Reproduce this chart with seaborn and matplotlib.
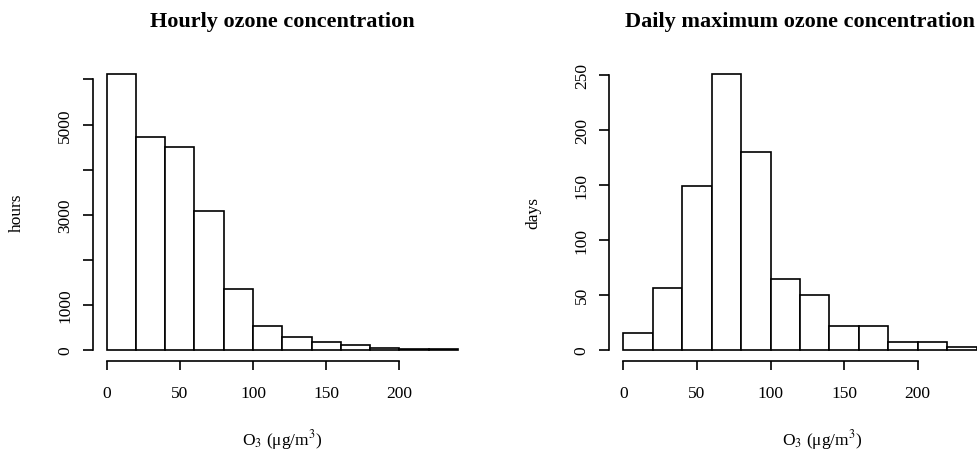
import numpy as np
import seaborn as sns
import matplotlib.pyplot as plt

# histogram bins (ug/m3) and counts
bin_edges = [0, 20, 40, 60, 80, 100, 120, 140, 160, 180, 200, 220, 240]
hourly_counts = [6130, 4730, 4500, 3080, 1350, 520, 270, 160, 110, 45, 12, 5]
daily_counts = [15, 56, 149, 251, 180, 64, 50, 21, 21, 7, 7, 2]

x_ticks = [0, 50, 100, 150, 200]
hourly_ticks = [0, 1000, 2000, 3000, 4000, 5000, 6000]
hourly_ticklabels = ['0', '1000', '', '3000', '', '5000', '']
daily_ticks = [0, 50, 100, 150, 200, 250]

sns.set_style('white')
plt.rcParams['font.family'] = ['Liberation Serif', 'DejaVu Serif']
plt.rcParams['mathtext.fontset'] = 'stix'
for key in ['text.color', 'axes.labelcolor', 'xtick.color', 'ytick.color']:
    plt.rcParams[key] = 'black'

fig = plt.figure(figsize=(9.77, 4.52), dpi=100)
ax1 = fig.add_axes([92.6 / 977, 0.2, 379.4 / 977, 298 / 452])
ax2 = fig.add_axes([609.2 / 977, 0.2, 381.5 / 977, 298 / 452])

mids = (np.array(bin_edges[:-1]) + np.array(bin_edges[1:])) / 2
xlabel = r'O$_3$ ($\mathregular{\mu}$g/m$^3$)'


def draw(ax, counts, yticks, yticklabels, ymax, title, ylabel, xlab_pos):
    sns.histplot(x=mids, weights=counts, bins=bin_edges, ax=ax,
                 color='white', edgecolor='black', linewidth=1.2, alpha=1)
    span = bin_edges[-1] - bin_edges[0]
    ax.set_xlim(-0.04 * span, bin_edges[-1] + 0.04 * span)
    ax.set_ylim(-0.04 * ymax, 1.04 * ymax)
    ax.set_xticks(x_ticks)
    ax.set_xticklabels([str(t) for t in x_ticks])
    ax.set_yticks(yticks)
    ax.set_yticklabels(yticklabels, rotation=90, va='center')
    for s in ['top', 'right']:
        ax.spines[s].set_visible(False)
    ax.spines['left'].set_bounds(yticks[0], yticks[-1])
    ax.spines['bottom'].set_bounds(x_ticks[0], x_ticks[-1])
    for s in ['left', 'bottom']:
        ax.spines[s].set_linewidth(1.2)
        ax.spines[s].set_color('black')
    ax.tick_params(axis='x', direction='out', length=6.5, width=1.2,
                   pad=11, labelsize=12.5, bottom=True, colors='black')
    ax.tick_params(axis='y', direction='out', length=7, width=1.2,
                   pad=7, labelsize=12.5, left=True, colors='black')
    ax.set_title(title, fontsize=16, fontweight='bold', pad=26, color='black')
    ax.set_xlabel(xlabel, fontsize=12.5)
    ax.xaxis.set_label_coords(xlab_pos, -0.263)
    ax.xaxis.label.set_va('center')
    ax.set_ylabel(ylabel, fontsize=12.5)
    ax.yaxis.set_label_coords(-0.2, 0.5)
    ax.yaxis.label.set_va('center')


draw(ax1, hourly_counts, hourly_ticks, hourly_ticklabels, max(hourly_counts),
     'Hourly ozone concentration', 'hours', 0.5)
draw(ax2, daily_counts, daily_ticks, [str(t) for t in daily_ticks],
     max(daily_counts), 'Daily maximum ozone concentration', 'days', 0.558)

fig.savefig('out.png', dpi=100)
